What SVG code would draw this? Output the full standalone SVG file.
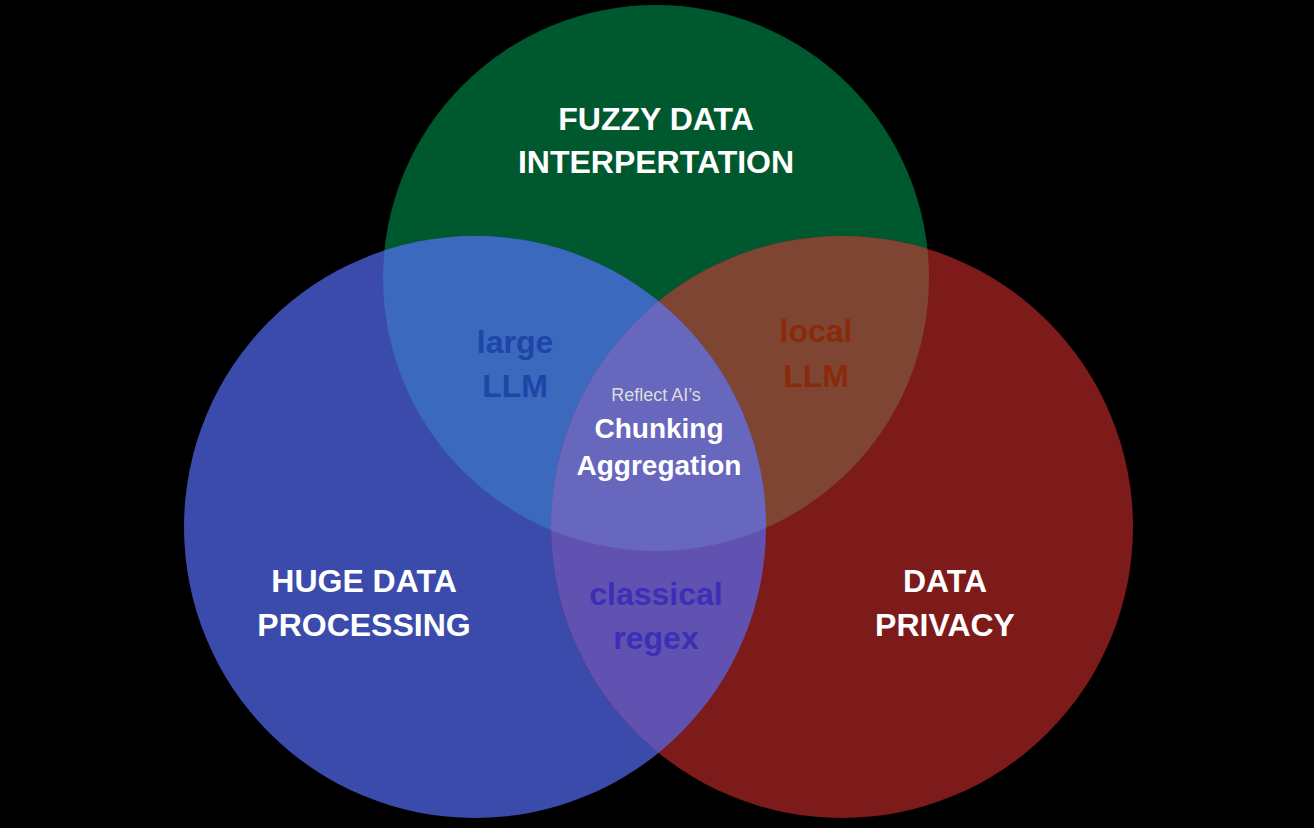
<svg xmlns="http://www.w3.org/2000/svg" width="1314" height="828" viewBox="0 0 1314 828">
<style>
text{font-family:"Liberation Sans",Arial,sans-serif;font-weight:bold;text-anchor:middle}
.w{fill:#fff;font-size:32px}
.c{fill:#fff;font-size:28px}
</style>
<defs>
<clipPath id="cg"><circle cx="656" cy="278" r="273"/></clipPath>
<clipPath id="cb"><circle cx="475" cy="527" r="291"/></clipPath>
<clipPath id="cr"><circle cx="842" cy="527" r="291"/></clipPath>
</defs>
<rect width="1314" height="828" fill="#000"/>
<g id="green"><circle cx="656" cy="278" r="273" fill="#00582e"/></g>
<g id="blue"><circle cx="475" cy="527" r="291" fill="#3a4bab"/></g>
<g id="red"><circle cx="842" cy="527" r="291" fill="#7d1a1a"/></g>
<g clip-path="url(#cg)"><circle cx="475" cy="527" r="291" fill="#3a69bd"/><circle cx="842" cy="527" r="291" fill="#7e4533"/></g>
<g clip-path="url(#cb)"><circle cx="842" cy="527" r="291" fill="#6151b0"/><g clip-path="url(#cg)"><circle cx="842" cy="527" r="291" fill="#6767bd"/></g></g>
<text class="w" x="656" y="130">FUZZY DATA</text>
<text class="w" x="656" y="173">INTERPERTATION</text>
<text class="w" x="364" y="592">HUGE DATA</text>
<text class="w" x="364" y="636">PROCESSING</text>
<text class="w" x="945" y="592">DATA</text>
<text class="w" x="945" y="636">PRIVACY</text>
<text x="515" y="353" style="font-size:32px;fill:#1e45a8">large</text>
<text x="515" y="397" style="font-size:32px;fill:#1e45a8">LLM</text>
<text x="816" y="342" style="font-size:32px;fill:#8a2a0a">local</text>
<text x="816" y="387" style="font-size:32px;fill:#8a2a0a">LLM</text>
<text x="656" y="605" style="font-size:32px;fill:#3b2fb8">classical</text>
<text x="656" y="649" style="font-size:32px;fill:#3b2fb8">regex</text>
<text x="656" y="401" style="font-size:18px;font-weight:normal;fill:#ddd">Reflect AI’s</text>
<text class="c" x="659" y="438">Chunking</text>
<text class="c" x="659" y="475">Aggregation</text>
</svg>
